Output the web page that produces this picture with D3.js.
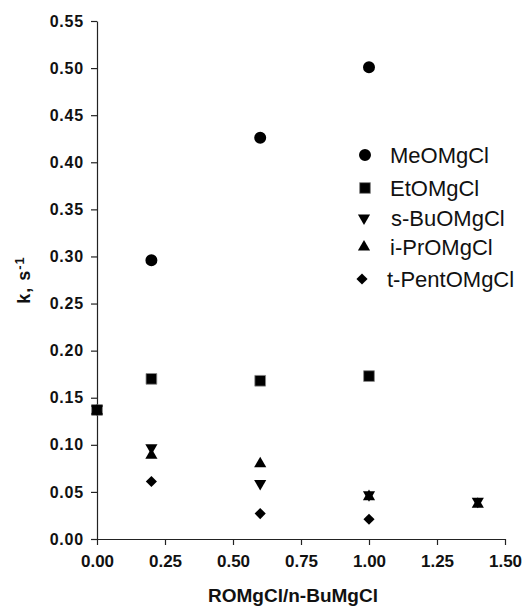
<!DOCTYPE html>
<html>
<head>
<meta charset="utf-8">
<script src="https://cdn.jsdelivr.net/npm/d3@7"></script>
<style>
body { margin: 0; background: #fff; }
svg text { font-family: "Liberation Sans", Arial, sans-serif; }
</style>
</head>
<body>
<div id="chart"></div>
<script>
let width = 529, height = 607;
let margin = {left: 97, right: 24, top: 21, bottom: 68};

// data
const names = ["MeOMgCl", "EtOMgCl", "s-BuOMgCl", "i-PrOMgCl", "t-PentOMgCl"];
const meX = [0.2, 0.6, 1.0];
const meY = [0.296, 0.426, 0.501];
const etX = [0, 0.2, 0.6, 1.0];
const etY = [0.137, 0.170, 0.168, 0.173];
const sbuX = [0, 0.2, 0.6, 1.0, 1.4];
const sbuY = [0.138, 0.097, 0.059, 0.047, 0.040];
const iprX = [0, 0.2, 0.6, 1.0, 1.4];
const iprY = [0.136, 0.089, 0.080, 0.045, 0.037];
const tpX = [0.2, 0.6, 1.0];
const tpY = [0.061, 0.027, 0.021];
const xTicks = [0, 0.25, 0.5, 0.75, 1.0, 1.25, 1.5];
const yTicks = [0, 0.05, 0.1, 0.15, 0.2, 0.25, 0.3, 0.35, 0.4, 0.45, 0.5, 0.55];

const series = [
    {name: names[0], x: meX, y: meY, type: d3.symbolCircle, size: 113, rot: 0},
    {name: names[1], x: etX, y: etY, type: d3.symbolSquare, size: 115, rot: 0},
    {name: names[2], x: sbuX, y: sbuY, type: d3.symbolTriangle, size: 64, rot: 180},
    {name: names[3], x: iprX, y: iprY, type: d3.symbolTriangle, size: 64, rot: 0},
    {name: names[4], x: tpX, y: tpY, type: d3.symbolSquare, size: 62, rot: 45}
];

const scaleX = d3.scaleLinear()
    .domain([0, 1.5])
    .range([margin.left, width - margin.right]);

const scaleY = d3.scaleLinear()
    .domain([0, 0.55])
    .range([height - margin.bottom, margin.top]);

const svg = d3.select("#chart")
    .append("svg")
    .attr("width", width)
    .attr("height", height);

let xAxis = d3.axisBottom(scaleX)
    .tickValues(xTicks)
    .tickFormat(d3.format(".2f"))
    .tickSize(6)
    .tickPadding(10)
    .tickSizeOuter(0);

let yAxis = d3.axisLeft(scaleY)
    .tickValues(yTicks)
    .tickFormat(d3.format(".2f"))
    .tickSize(6)
    .tickPadding(7)
    .tickSizeOuter(0);

svg.append("g")
    .attr("class", "axis xaxis")
    .attr("transform", "translate(0," + (height - margin.bottom) + ")")
    .call(xAxis);

svg.append("g")
    .attr("class", "axis yaxis")
    .attr("transform", "translate(" + margin.left + ",0)")
    .call(yAxis);

svg.selectAll(".axis path, .axis line")
    .attr("stroke", "#222")
    .attr("stroke-width", 1.2);

svg.selectAll(".xaxis text")
    .attr("font-size", "17px")
    .attr("font-weight", "bold")
    .attr("fill", "#111");

svg.selectAll(".yaxis text")
    .attr("font-size", "16px")
    .attr("font-weight", "bold")
    .attr("letter-spacing", "0.8px")
    .attr("fill", "#111");

// axis titles
svg.append("text")
    .attr("x", 293)
    .attr("y", 602)
    .attr("text-anchor", "middle")
    .attr("font-size", "19px")
    .attr("font-weight", "bold")
    .attr("fill", "#111")
    .text("ROMgCl/n-BuMgCl");

const yTitle = svg.append("text")
    .attr("transform", "translate(30,280) rotate(-90)")
    .attr("text-anchor", "middle")
    .attr("font-size", "18px")
    .attr("font-weight", "bold")
    .attr("letter-spacing", "1px")
    .attr("fill", "#111");
yTitle.append("tspan").text("k, s");
yTitle.append("tspan").attr("dy", "-0.5em").attr("font-size", "13px").text("-1");

// points
series.forEach(s => {
    const sym = d3.symbol().type(s.type).size(s.size);
    svg.append("g")
        .selectAll("path")
        .data(s.x.map((d, i) => [d, s.y[i]]))
        .enter()
        .append("path")
        .attr("d", sym)
        .attr("fill", "#000")
        .attr("stroke", s.name === "EtOMgCl" ? "#888" : "none")
        .attr("stroke-width", 0.8)
        .attr("transform", d => "translate(" + scaleX(d[0]) + "," + scaleY(d[1]) + ") rotate(" + s.rot + ")");
});

// legend
const legendY = [155, 188, 218, 247, 279];
const legendMx = [365, 365, 364, 364, 362];
const legendTx = [390, 390, 391, 390, 387];
const legend = svg.selectAll(".legend")
    .data(series)
    .enter()
    .append("g")
    .attr("class", "legend")
    .attr("transform", (d, i) => "translate(0," + legendY[i] + ")");

legend.append("path")
    .attr("d", d => d3.symbol().type(d.type).size(d.size)())
    .attr("fill", "#000")
    .attr("stroke", d => d.name === "EtOMgCl" ? "#888" : "none")
    .attr("stroke-width", 0.8)
    .attr("transform", (d, i) => "translate(" + legendMx[i] + ",0) rotate(" + d.rot + ")");

legend.append("text")
    .attr("x", (d, i) => legendTx[i])
    .attr("dy", "0.36em")
    .attr("font-size", "22px")
    .attr("fill", "#111")
    .text(d => d.name);
</script>
</body>
</html>
